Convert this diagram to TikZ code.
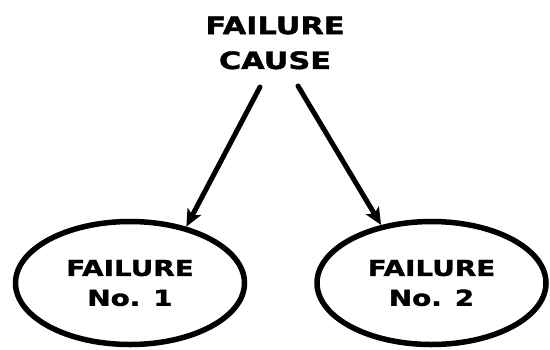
\documentclass[tikz,border=0pt]{standalone}
\usepackage{fontspec}
\newfontfamily\lbl{DejaVu Sans Bold}[FakeStretch=1.27,FakeBold=1.6]
\usetikzlibrary{shapes.geometric,arrows.meta}
\tikzset{
  failbox/.style={ellipse, draw, line width=5.5bp, minimum width=229bp, minimum height=123bp, inner sep=0pt, align=center, font=\lbl\fontsize{22}{30}\selectfont},
  titletext/.style={inner sep=0pt, align=center, font=\lbl\fontsize{24}{35}\selectfont},
  arr/.style={line width=5bp, line cap=round, -{Stealth[length=17bp,width=15bp,inset=4bp]}}
}
\begin{document}
\begin{tikzpicture}[x=1bp,y=-1bp]
\useasboundingbox (0,0) rectangle (550,349);
\node[titletext] (cause) at (275,43) {FAILURE\\CAUSE};
\node[failbox] (f1) at (130,283) {FAILURE\\No. 1};
\node[failbox] (f2) at (431.5,283) {FAILURE\\No. 2};
\coordinate (s1) at (260,87);
\coordinate (s2) at (298,86);
\draw[arr] (s1) -- (f1.45);
\draw[arr] (s2) -- (f2.131);
\end{tikzpicture}
\end{document}
